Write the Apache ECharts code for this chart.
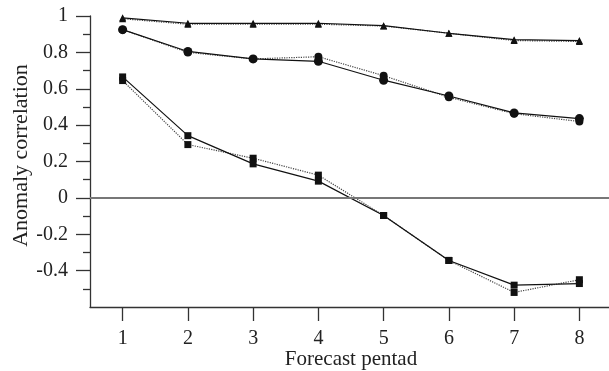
<!DOCTYPE html>
<html>
<head>
<meta charset="utf-8">
<script src="https://cdn.jsdelivr.net/npm/echarts@6/dist/echarts.min.js"></script>
<style>
  html, body { margin: 0; padding: 0; background: #fff; }
  #chart { width: 609px; height: 371px; }
</style>
</head>
<body>
<div id="chart"></div>
<script>
// forecast pentads
var pentads = [1, 2, 3, 4, 5, 6, 7, 8]
// anomaly correlation, solid lines and dotted lines
var triSolid = [0.99, 0.96, 0.96, 0.96, 0.947, 0.905, 0.87, 0.865]
var triDotted = [0.985, 0.955, 0.955, 0.955, 0.945, 0.905, 0.865, 0.86]
var dotSolid = [0.925, 0.805, 0.764, 0.751, 0.647, 0.56, 0.467, 0.436]
var dotDotted = [0.925, 0.8, 0.764, 0.776, 0.672, 0.553, 0.463, 0.42]
var sqSolid = [0.665, 0.342, 0.187, 0.092, -0.097, -0.344, -0.48, -0.471]
var sqDotted = [0.645, 0.293, 0.218, 0.125, -0.097, -0.344, -0.52, -0.45]
// tick positions
var yMajor = [-0.4, -0.2, 0, 0.2, 0.4, 0.6, 0.8, 1]
var yMinor = [-0.5, -0.3, -0.1, 0.1, 0.3, 0.5, 0.7, 0.9]

function pairs(ys) {
    return pentads.map(function (x, i) { return [x, ys[i]] })
}

var font = 'Liberation Serif'
var ink = '#222'

function line(name, ys, symbol, size, dotted) {
    return {
        name: name,
        type: 'line',
        data: pairs(ys),
        symbol: symbol,
        symbolSize: size,
        z: dotted ? 2 : 3,
        lineStyle: { color: dotted ? '#444' : '#111', width: 1.2, type: dotted ? 'dotted' : 'solid' },
        itemStyle: { color: '#111' }
    }
}

var chart = echarts.init(document.getElementById('chart'))
chart.setOption({
    animation: false,
    backgroundColor: '#fff',
    grid: { left: 90, top: 16, width: 522, height: 291, containLabel: false, outerBoundsMode: 'none' },
    xAxis: {
        type: 'value',
        min: 0.5,
        max: 8.5,
        name: 'Forecast pentad',
        nameLocation: 'middle',
        nameGap: 42,
        nameMoveOverlap: false,
        nameTextStyle: { fontFamily: font, fontSize: 21, color: ink },
        axisLine: { onZero: false, lineStyle: { color: '#333', width: 1.3 } },
        axisTick: { customValues: pentads, length: 14, inside: false, lineStyle: { color: '#333', width: 1.3 } },
        axisLabel: { customValues: pentads, margin: 22, fontFamily: font, fontSize: 20, color: ink },
        splitLine: { show: false }
    },
    yAxis: [{
        type: 'value',
        min: -0.6,
        max: 1,
        interval: 0.2,
        name: 'Anomaly correlation',
        nameLocation: 'middle',
        nameGap: 58,
        nameMoveOverlap: false,
        nameTextStyle: { fontFamily: font, fontSize: 22, color: ink, padding: [0, 0, 0, 12] },
        axisLine: { show: true, lineStyle: { color: '#333', width: 1.3 } },
        axisTick: { customValues: yMajor, length: 14, lineStyle: { color: '#333', width: 1.3 } },
        axisLabel: {
            customValues: yMajor,
            margin: 22,
            fontFamily: font,
            fontSize: 20,
            color: ink,
            formatter: function (v) { return String(Math.round(v * 10) / 10) }
        },
        splitLine: { show: false }
    }, {
        type: 'value',
        position: 'left',
        min: -0.6,
        max: 1,
        interval: 0.2,
        axisLine: { show: false },
        axisTick: { customValues: yMinor, length: 7, lineStyle: { color: '#333', width: 1.3 } },
        axisLabel: { show: false },
        splitLine: { show: false }
    }],
    series: [
        line('triangle dotted', triDotted, 'triangle', 7, true),
        line('circle dotted', dotDotted, 'circle', 8, true),
        line('square dotted', sqDotted, 'rect', 7, true),
        line('triangle', triSolid, 'triangle', 7, false),
        line('circle', dotSolid, 'circle', 9, false),
        Object.assign(line('square', sqSolid, 'rect', 7, false), {
            markLine: {
                silent: true,
                symbol: 'none',
                label: { show: false },
                lineStyle: { color: '#777', width: 2, type: 'solid' },
                data: [{ yAxis: 0 }]
            }
        })
    ]
})
</script>
</body>
</html>
